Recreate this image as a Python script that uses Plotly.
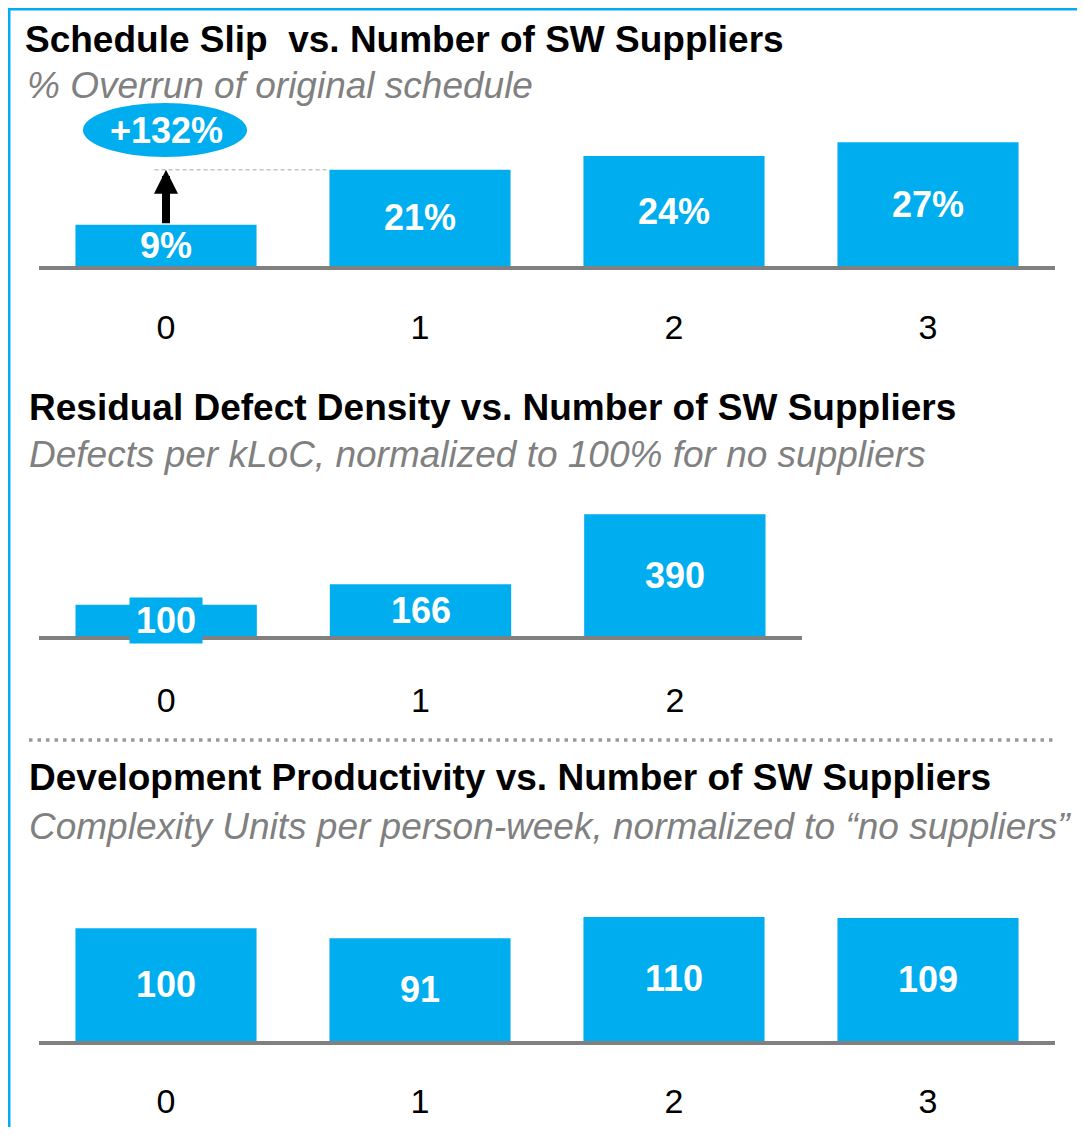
import plotly.graph_objects as go

# page body has an 8px margin; the figure is sized to fit inside the window
OFF = 8
W, H = 1085 - OFF, 1135 - 2 * OFF

# ---- data ----
suppliers_all = ["0", "1", "2", "3"]
suppliers_p2 = ["0", "1", "2"]

schedule_slip = [9, 21, 24, 27]
schedule_labels = ["9%", "21%", "24%", "27%"]
slip_increase_label = "+132%"

defect_density = [100, 166, 390]
defect_labels = ["100", "166", "390"]

productivity = [100, 91, 110, 109]
productivity_labels = ["100", "91", "110", "109"]

titles = [
    "Schedule Slip\u00a0 vs. Number of SW Suppliers",
    "Residual Defect Density vs. Number of SW Suppliers",
    "Development Productivity vs. Number of SW Suppliers",
]
subtitles = [
    "% Overrun of original schedule",
    "Defects per kLoC, normalized to 100% for no suppliers",
    "Complexity Units per person-week, normalized to \u201cno suppliers\u201d",
]

# ---- style ----
BLUE = "#00AEEF"
GRAY = "#808080"
FONT = "Arial, Liberation Sans, sans-serif"


def px(v):
    return (v - OFF) / W


def py(v):
    return 1 - (v - OFF) / H


fig = go.Figure()

fig.add_trace(go.Bar(x=suppliers_all, y=schedule_slip, text=schedule_labels,
                     xaxis="x", yaxis="y", marker_color=BLUE, marker_line_width=0,
                     textposition="inside", insidetextanchor="middle",
                     textfont=dict(family=FONT, size=36, color="white", weight="bold"),
                     hoverinfo="skip"))
fig.add_trace(go.Bar(x=suppliers_p2, y=defect_density, text=None,
                     xaxis="x2", yaxis="y2", marker_color=BLUE, marker_line_width=0,
                     hoverinfo="skip"))
fig.add_trace(go.Bar(x=suppliers_all, y=productivity, text=productivity_labels,
                     xaxis="x3", yaxis="y3", marker_color=BLUE, marker_line_width=0,
                     textposition="inside", insidetextanchor="middle",
                     textfont=dict(family=FONT, size=36, color="white", weight="bold"),
                     hoverinfo="skip"))

# scales: px per unit
s1, s2, s3 = 4.58, 0.312, 1.128
base1, base2, base3 = 266, 636, 1041
top1, top2, top3 = 100, 490, 880

xcommon = dict(type="category", showgrid=False, zeroline=False, showline=True,
               linecolor=GRAY, linewidth=4, ticks="",
               tickfont=dict(family=FONT, size=34, color="black"), fixedrange=True)
ycommon = dict(showgrid=False, zeroline=False, showline=False, showticklabels=False,
               fixedrange=True)

fig.update_layout(
    width=W, height=H, autosize=False,
    margin=dict(l=0, r=0, t=0, b=0),
    paper_bgcolor="white", plot_bgcolor="white",
    showlegend=False, bargap=0.287,
    uniformtext=dict(minsize=36, mode="show"),
    xaxis=dict(xcommon, domain=[px(39), px(1055)], range=[-0.5, 3.5], anchor="y",
               ticklabelstandoff=28),
    yaxis=dict(ycommon, domain=[py(base1), py(top1)], range=[0, (base1 - top1) / s1], anchor="x"),
    xaxis2=dict(xcommon, domain=[px(39), px(802)], range=[-0.5, 2.5], anchor="y2",
                ticklabelstandoff=31),
    yaxis2=dict(ycommon, domain=[py(base2), py(top2)], range=[0, (base2 - top2) / s2], anchor="x2"),
    xaxis3=dict(xcommon, domain=[px(39), px(1055)], range=[-0.5, 3.5], anchor="y3",
                ticklabelstandoff=27),
    yaxis3=dict(ycommon, domain=[py(base3), py(top3)], range=[0, (base3 - top3) / s3], anchor="x3"),
)

annotations = []
# titles / subtitles
title_y = [40, 407, 777]
sub_y = [85, 454, 826]
title_x = [23, 27, 27]
sub_x = [25, 27, 27]
for t, s, ty, sy, tx, sx in zip(titles, subtitles, title_y, sub_y, title_x, sub_x):
    annotations.append(dict(text=t, xref="paper", yref="paper", x=px(tx), y=py(ty),
                            xanchor="left", yanchor="middle", showarrow=False,
                            font=dict(family=FONT, size=37, color="black", weight="bold")))
    annotations.append(dict(text=s, xref="paper", yref="paper", x=px(sx), y=py(sy),
                            xanchor="left", yanchor="middle", showarrow=False,
                            font=dict(family=FONT, size=37, color=GRAY, style="italic")))

# panel 2 labels with blue boxes
for cat, val, lab in zip(suppliers_p2, defect_density, defect_labels):
    annotations.append(dict(text=lab, xref="x2", yref="y2", x=cat, y=val / 2,
                            xanchor="center", yanchor="middle", showarrow=False,
                            bgcolor=BLUE, borderpad=2, width=68,
                            font=dict(family=FONT, size=36, color="white", weight="bold")))

# arrow from bar 0 top to bar 1 top level
annotations.append(dict(text="", xref="x", yref="y", x=0, y=schedule_slip[1],
                        axref="x", ayref="y", ax=0, ay=schedule_slip[0],
                        showarrow=True, arrowhead=2, arrowsize=0.6, arrowwidth=8,
                        arrowcolor="black", standoff=0, startstandoff=0))
# +132% bubble text
annotations.append(dict(text=slip_increase_label, xref="x", yref="paper", x=0, y=py(131),
                        xanchor="center", yanchor="middle", showarrow=False,
                        font=dict(family=FONT, size=36, color="white", weight="bold")))
fig.update_layout(annotations=annotations)

shapes = [
    # ellipse
    dict(type="circle", xref="x", yref="paper", x0=-0.327, x1=0.319,
         y0=py(157), y1=py(103), fillcolor=BLUE, line_width=0, layer="below"),
    # dashed reference line at bar 1 level
    dict(type="line", xref="x", yref="y", x0=-0.045, x1=0.644,
         y0=schedule_slip[1], y1=schedule_slip[1],
         line=dict(color="#A6A6A6", width=1, dash="4px,3px")),
    # frame
    dict(type="line", xref="paper", yref="paper", x0=px(9), x1=1.0, y0=py(9), y1=py(9),
         line=dict(color=BLUE, width=3)),
    dict(type="line", xref="paper", yref="paper", x0=px(9), x1=px(9), y0=py(8), y1=0,
         line=dict(color=BLUE, width=3)),
    # dotted separator
    dict(type="line", xref="paper", yref="paper", x0=px(29), x1=px(1055), y0=py(740), y1=py(740),
         line=dict(color="#999999", width=3.5, dash="3.5px,5px")),
]
fig.update_layout(shapes=shapes)

fig.write_html("out.html", config={"displayModeBar": False})
